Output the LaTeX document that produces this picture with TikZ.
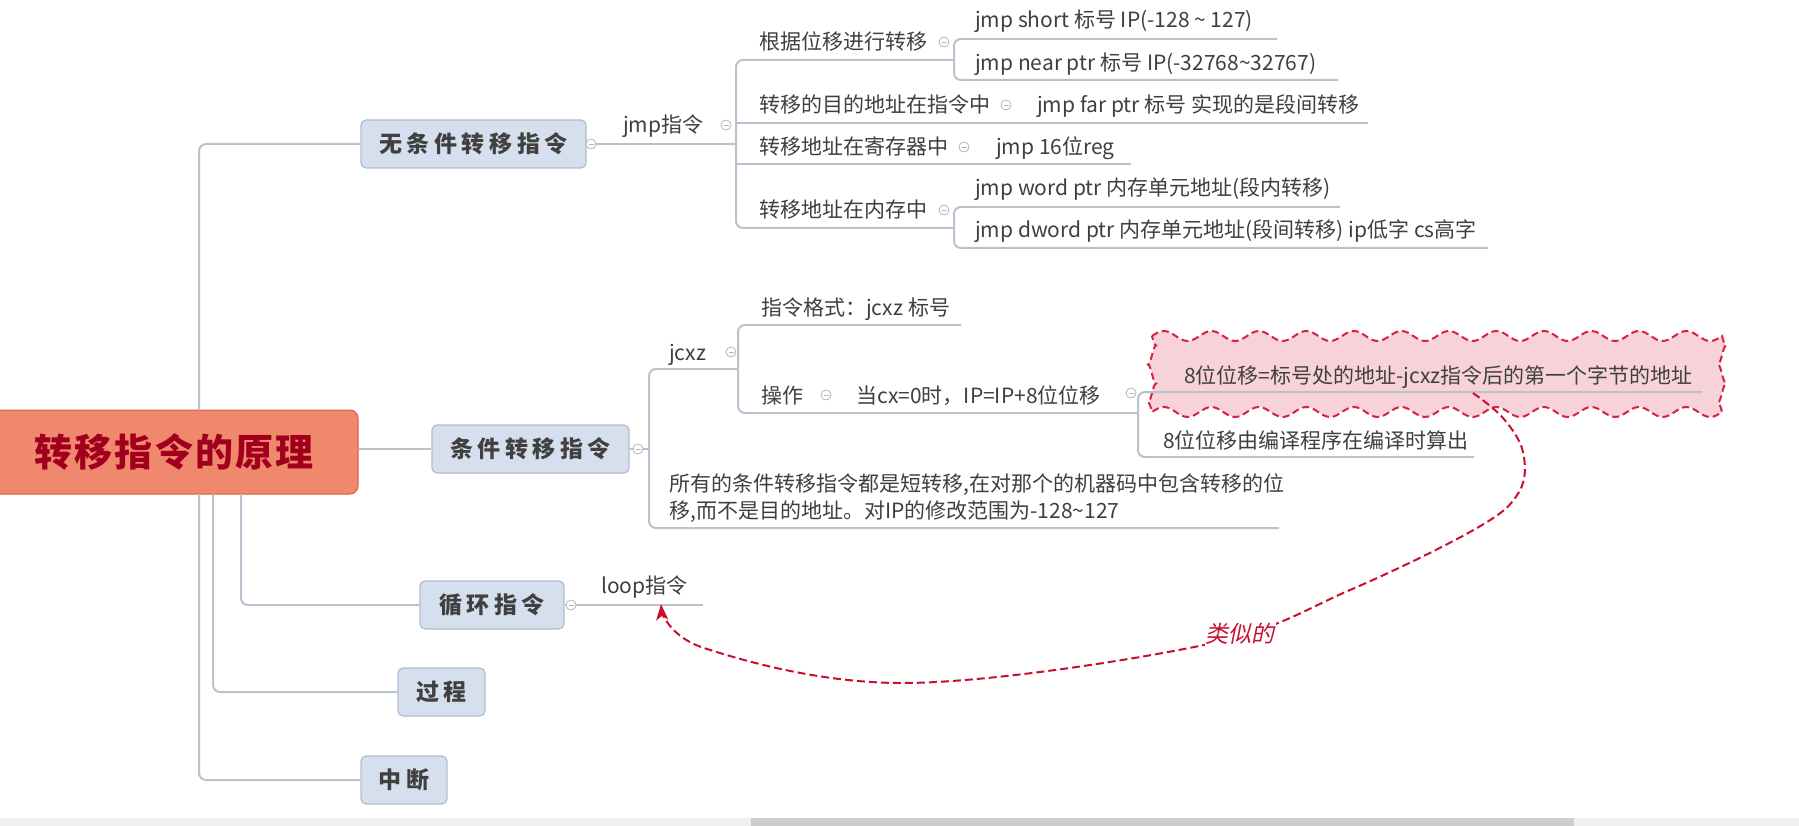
\documentclass[tikz,border=0pt]{standalone}
\usepackage{fontspec}
\setmainfont{Noto Sans CJK SC}
\newfontfamily\boxfont[LetterSpace=20]{Noto Sans CJK SC}
\newfontfamily\rootfont[LetterSpace=6]{Noto Sans CJK SC}
\newfontfamily\slfont[FakeSlant=0.2]{Noto Sans CJK SC}
\usetikzlibrary{arrows.meta,decorations.pathmorphing}
\definecolor{linegray}{HTML}{BAC2CE}
\definecolor{boxfill}{HTML}{D6DFED}
\definecolor{boxborder}{HTML}{B2BDCD}
\definecolor{boxtext}{HTML}{404040}
\definecolor{txtgray}{HTML}{3F3F3F}
\definecolor{dotgray}{HTML}{AEB6C4}
\definecolor{rootfill}{HTML}{F0886E}
\definecolor{rootborder}{HTML}{D65C42}
\definecolor{roottext}{HTML}{A0001E}
\definecolor{cloudfill}{HTML}{F7D3D9}
\definecolor{cloudred}{HTML}{D8203F}
\definecolor{arrowred}{HTML}{C8102E}
\definecolor{sbar}{HTML}{F0F0F0}
\definecolor{sthumb}{HTML}{CDCDCD}
\begin{document}
\begin{tikzpicture}[x=1pt,y=-1pt,
  conn/.style={draw=linegray, line width=2pt, rounded corners=7pt},
  tx/.style={anchor=base west, inner sep=0pt, text=txtgray, font=\fontsize{21}{25}\selectfont},
  mbox/.style={draw=boxborder, fill=boxfill, rounded corners=5pt, line width=1.2pt, inner sep=0pt,
     minimum height=48pt, font=\boxfont\bfseries\fontsize{23}{27}\selectfont, text=boxtext},
  dot/.style={circle, draw=dotgray, fill=white, line width=0.8pt, minimum size=10pt, inner sep=0pt,
     path picture={\draw[dotgray,line width=0.8pt] ([xshift=-2.5pt]path picture bounding box.center) -- ([xshift=2.5pt]path picture bounding box.center);}}
]
\useasboundingbox (0,0) rectangle (1799,826);
\fill[white] (0,0) rectangle (1799,826);

% ---------- root and first level boxes ----------
\node[draw=rootborder, fill=rootfill, rounded corners=8pt, line width=1pt,
      minimum width=368pt, minimum height=84pt, inner sep=0pt,
      font=\rootfont\bfseries\fontsize{38}{44}\selectfont, text=roottext] (root) at (174,452) {转移指令的原理};
\node[mbox, minimum width=225pt] (wu) at (473.5,144) {无条件转移指令};
\node[mbox, minimum width=197pt] (tiao) at (530.5,449) {条件转移指令};
\node[mbox, minimum width=144pt] (xun) at (492,605) {循环指令};
\node[mbox, minimum width=87pt] (guo) at (441.5,692) {过程};
\node[mbox, minimum width=86pt] (zd) at (404,780) {中断};

\coordinate (rA) at (199,410);
\coordinate (rB) at (241,494);
\coordinate (rC) at (213,494);
\coordinate (rD) at (199,494);
\draw[conn] (rA) |- (wu.west);
\draw[conn] (rB) |- (xun.west);
\draw[conn] (rC) |- (guo.west);
\draw[conn] (rD) |- (zd.west);
\draw[conn] (root.east |- tiao.west) -- (tiao.west);

% ---------- 无条件转移指令 subtree ----------
\draw[conn] (wu.east) -- (736,144);
\draw[conn] (954,60) -- (736,60) -- (736,228) -- (954,228);
\draw[conn] (736,123) -- (1368,123);
\draw[conn] (736,164) -- (1131,164);
\draw[conn] (1277,39) -- (954,39) -- (954,80) -- (1338,80);
\draw[conn] (1340,207) -- (954,207) -- (954,248) -- (1488,248);

\node[tx] (jmp) at (623,133) {jmp指令};
\node[tx] (gj) at (759,50) {根据位移进行转移};
\node[tx] (js) at (975,28) {jmp short 标号 IP(-128 \char`~{} 127)};
\node[tx] (jn) at (975,71) {jmp near ptr 标号 IP(-32768\char`~32767)};
\node[tx] (md) at (759,113) {转移的目的地址在指令中};
\node[tx] (jf) at (1037,113) {jmp far ptr 标号 实现的是段间转移};
\node[tx] (jc) at (759,155) {转移地址在寄存器中};
\node[tx] (jr) at (996,155) {jmp 16位reg};
\node[tx] (nc) at (759,218) {转移地址在内存中};
\node[tx] (jw) at (975,196) {jmp word ptr 内存单元地址(段内转移)};
\node[tx] (jd) at (975,238) {jmp dword ptr 内存单元地址(段间转移) ip低字 cs高字};

\node[dot] at (591,144) {};
\node[dot] at (726,125) {};
\node[dot] at (944,42) {};
\node[dot] at (1006,105) {};
\node[dot] at (964,147) {};
\node[dot] at (944,210) {};

% ---------- 条件转移指令 subtree ----------
% wavy cloud round the note
\path[draw=cloudred, fill=cloudfill, dash pattern=on 7pt off 4pt, line width=2pt]
  (1152,336)
  foreach \i in {1,...,12} { sin ++(11.875,-5) cos ++(11.875,5) sin ++(11.875,5) cos ++(11.875,-5) }
  foreach \i in {1,2} { sin ++(4,9.5) cos ++(-4,9.5) sin ++(-4,9.5) cos ++(4,9.5) }
  foreach \i in {1,...,12} { sin ++(-11.875,5) cos ++(-11.875,-5) sin ++(-11.875,-5) cos ++(-11.875,5) }
  foreach \i in {1,2} { sin ++(-4,-9.5) cos ++(4,-9.5) sin ++(4,-9.5) cos ++(-4,-9.5) }
  -- cycle;

\draw[conn] (tiao.east) -- (649,449);
\draw[conn] (738,369) -- (649,369) -- (649,528) -- (1279,528);
\draw[conn] (961,325) -- (738,325) -- (738,413) -- (1138,413);
\draw[conn] (1702,392) -- (1138,392) -- (1138,457) -- (1474,457);

\node[tx] (jcxz) at (669,360) {jcxz};
\node[tx] (gs) at (761,316) {指令格式：jcxz 标号};
\node[tx] (cz) at (761,403) {操作};
\node[tx] (dcx) at (856,403) {当cx=0时，IP=IP+8位位移};
\node[tx] (w8) at (1184,383) {8位位移=标号处的地址-jcxz指令后的第一个字节的地址};
\node[tx] (w8b) at (1163,448) {8位位移由编译程序在编译时算出};
\node[tx] (all1) at (669,491) {所有的条件转移指令都是短转移,在对那个的机器码中包含转移的位};
\node[tx] (all2) at (669,518) {移,而不是目的地址。对IP的修改范围为-128\char`~127};

\node[dot] at (638,449) {};
\node[dot] at (731,352) {};
\node[dot] at (826,395) {};
\node[dot] at (1131,393) {};

% ---------- 循环指令 ----------
\draw[conn] (xun.east) -- (703,605);
\node[tx] (loop) at (601,593) {loop指令};
\node[dot] at (571,605) {};

% ---------- dashed relation ----------
\coordinate (relS) at (1473,393);
\coordinate (relE) at (661,604);
\draw[arrowred, line width=2pt, dash pattern=on 8pt off 4pt, -{Stealth[length=16pt,width=12pt,inset=4pt]}]
  plot[smooth, tension=0.6] coordinates {(relS) (1503,418) (1523,452) (1519,492) (1477,528) (1350,590) (1204,645) (905,683) (704,648) (relE)};
\node[font=\slfont\fontsize{23}{27}\selectfont, text=arrowred, fill=white, inner sep=1pt] (lbl) at (1240,634) {类似的};

% ---------- scrollbar ----------
\fill[sbar] (0,818) rectangle (1799,826);
\fill[sthumb] (751,818) rectangle (1574,826);
\end{tikzpicture}
\end{document}
